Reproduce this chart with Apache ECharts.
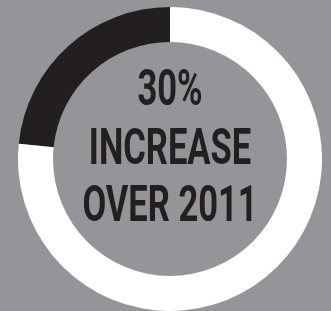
<!DOCTYPE html>
<html>
<head>
    <meta charset="utf-8">
    <script src="https://cdn.jsdelivr.net/npm/echarts@6/dist/echarts.min.js"></script>
    <style>
        html, body { margin: 0; padding: 0; background: #939598; }
        #chart { width: 331px; height: 311px; }
    </style>
</head>
<body>
<div id="chart"></div>
<script>
    const categories = ['Increase', 'Rest'];
    const values = [23.4, 76.6];
    const labelLines = ['30%', 'INCREASE', 'OVER 2011'];

    /*donut chart*/
    (function () {
        const el = document.getElementById('chart');
        const chart = echarts.init(el);
        const colors = ['#231f20', '#ffffff'];
        const lineY = [92, 151, 208];

        const option = {
            backgroundColor: '#939598',
            animation: false,
            series: [{
                type: 'pie',
                center: [170, 159],
                radius: [117, 152],
                startAngle: 90,
                clockwise: false,
                silent: true,
                label: {show: false},
                labelLine: {show: false},
                data: categories.map(function (name, i) {
                    return {
                        name: name,
                        value: values[i],
                        itemStyle: {color: colors[i]}
                    };
                })
            }],
            graphic: labelLines.map(function (text, i) {
                return {
                    type: 'text',
                    x: 170,
                    y: lineY[i],
                    scaleX: 0.69,
                    style: {
                        text: text,
                        fill: '#231f20',
                        font: 'bold 50px Roboto, "DejaVu Sans Condensed", sans-serif',
                        textAlign: 'center',
                        textVerticalAlign: 'middle'
                    }
                };
            })
        };

        chart.setOption(option);
    })();
</script>
</body>
</html>
